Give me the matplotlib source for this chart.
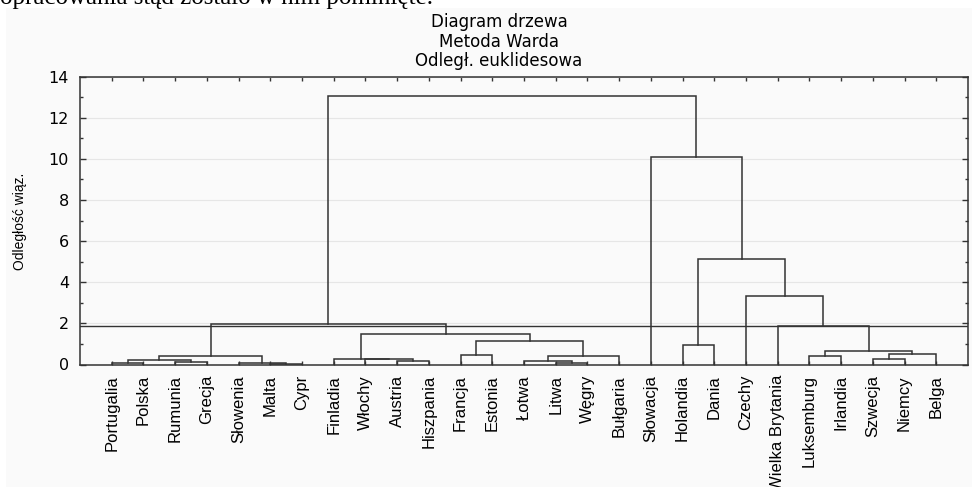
import matplotlib
matplotlib.use("Agg")
import matplotlib.pyplot as plt
from matplotlib.patches import Rectangle
from matplotlib.ticker import MultipleLocator

# leaves in dendrogram order
countries = ['Portugalia', 'Polska', 'Rumunia', 'Grecja', 'Słowenia', 'Malta', 'Cypr',
             'Finladia', 'Włochy', 'Austria', 'Hiszpania', 'Francja', 'Estonia', 'Łotwa',
             'Litwa', 'Węgry', 'Bułgaria', 'Słowacja', 'Holandia', 'Dania', 'Czechy',
             'Wielka Brytania', 'Luksemburg', 'Irlandia', 'Szwecja', 'Niemcy', 'Belga']

# merges: (left node, right node) and linkage distance; new node ids start at 27
merge_left = [5, 4, 14, 0, 2, 9, 13, 30, 8, 24, 7, 33, 11, 34, 22, 36, 41, 18, 39, 37, 21, 40, 20, 44, 17, 48]
merge_right = [6, 27, 15, 1, 3, 10, 29, 31, 32, 25, 35, 16, 12, 28, 23, 26, 42, 19, 38, 45, 43, 46, 47, 49, 50, 51]
merge_dist = [0.02, 0.05, 0.06, 0.08, 0.11, 0.17, 0.16, 0.21, 0.25, 0.25, 0.28, 0.39, 0.44,
              0.42, 0.41, 0.53, 0.68, 0.94, 1.13, 1.46, 1.87, 1.95, 3.35, 5.13, 10.08, 13.04]

cut_level = 1.85

panel_col = '#fafafa'
line_col = '#333333'
sans = ['Liberation Sans', 'DejaVu Sans']

fig = plt.figure(figsize=(9.72, 4.87), dpi=100)
fig.patch.set_facecolor('white')
fig.patches.append(Rectangle((6 / 972, 0), 1, 1 - 8 / 487, transform=fig.transFigure,
                             facecolor=panel_col, edgecolor='none', zorder=-5))

ax = fig.add_axes([80 / 972, 1 - 364.5 / 487, 888 / 972, 287.8 / 487])
ax.set_facecolor(panel_col)

n = len(countries)
xpos = {i: i + 1 for i in range(n)}
hpos = {i: 0.0 for i in range(n)}
for k, (a, b, d) in enumerate(zip(merge_left, merge_right, merge_dist)):
    xa, xb = xpos[a], xpos[b]
    ax.plot([xa, xa, xb, xb], [hpos[a], d, d, hpos[b]], color=line_col, lw=1.1,
            solid_joinstyle='miter', zorder=3)
    xpos[n + k] = (xa + xb) / 2
    hpos[n + k] = d

ax.axhline(cut_level, color=line_col, lw=1.0, zorder=3)

ax.set_xlim(0, n + 1)
ax.set_ylim(0, 14)
ax.yaxis.set_major_locator(MultipleLocator(2))
ax.yaxis.set_minor_locator(MultipleLocator(1))
ax.grid(axis='y', which='major', color='#e6e6e6', lw=0.8, zorder=0)
ax.set_xticks(range(1, n + 1))
ax.set_xticklabels(countries, rotation=90, family=sans, fontsize=12)
ax.tick_params(axis='x', which='both', direction='in', top=True, bottom=True,
               length=3, width=1, color=line_col, pad=7.5)
ax.tick_params(axis='y', which='both', direction='in', left=True, right=True,
               color=line_col, width=1, pad=8)
ax.tick_params(axis='y', which='major', length=4, labelsize=11.5)
ax.tick_params(axis='y', which='minor', length=2)
for lab in ax.get_yticklabels():
    lab.set_family('DejaVu Sans')
for s in ax.spines.values():
    s.set_color(line_col)
    s.set_linewidth(1.1)

fig.text(20 / 972, 1 - 221 / 487, 'Odległość wiąz.', rotation=90, ha='center', va='center',
         family=sans, fontsize=10)

titles = ['Diagram drzewa', 'Metoda Warda', 'Odległ. euklidesowa']
for t, y in zip(titles, [22, 42, 61]):
    fig.text(499 / 972, 1 - y / 487, t, ha='center', va='center', family='DejaVu Sans',
             fontsize=12)

# leftover line of page text, cut off at the top
fig.text(0, 1 - 4 / 487, 'opracowania stąd zostało w nim pominięte.', ha='left', va='baseline',
         family='Liberation Serif', fontsize=18)

fig.savefig('out.png', dpi=100, facecolor=fig.get_facecolor())
